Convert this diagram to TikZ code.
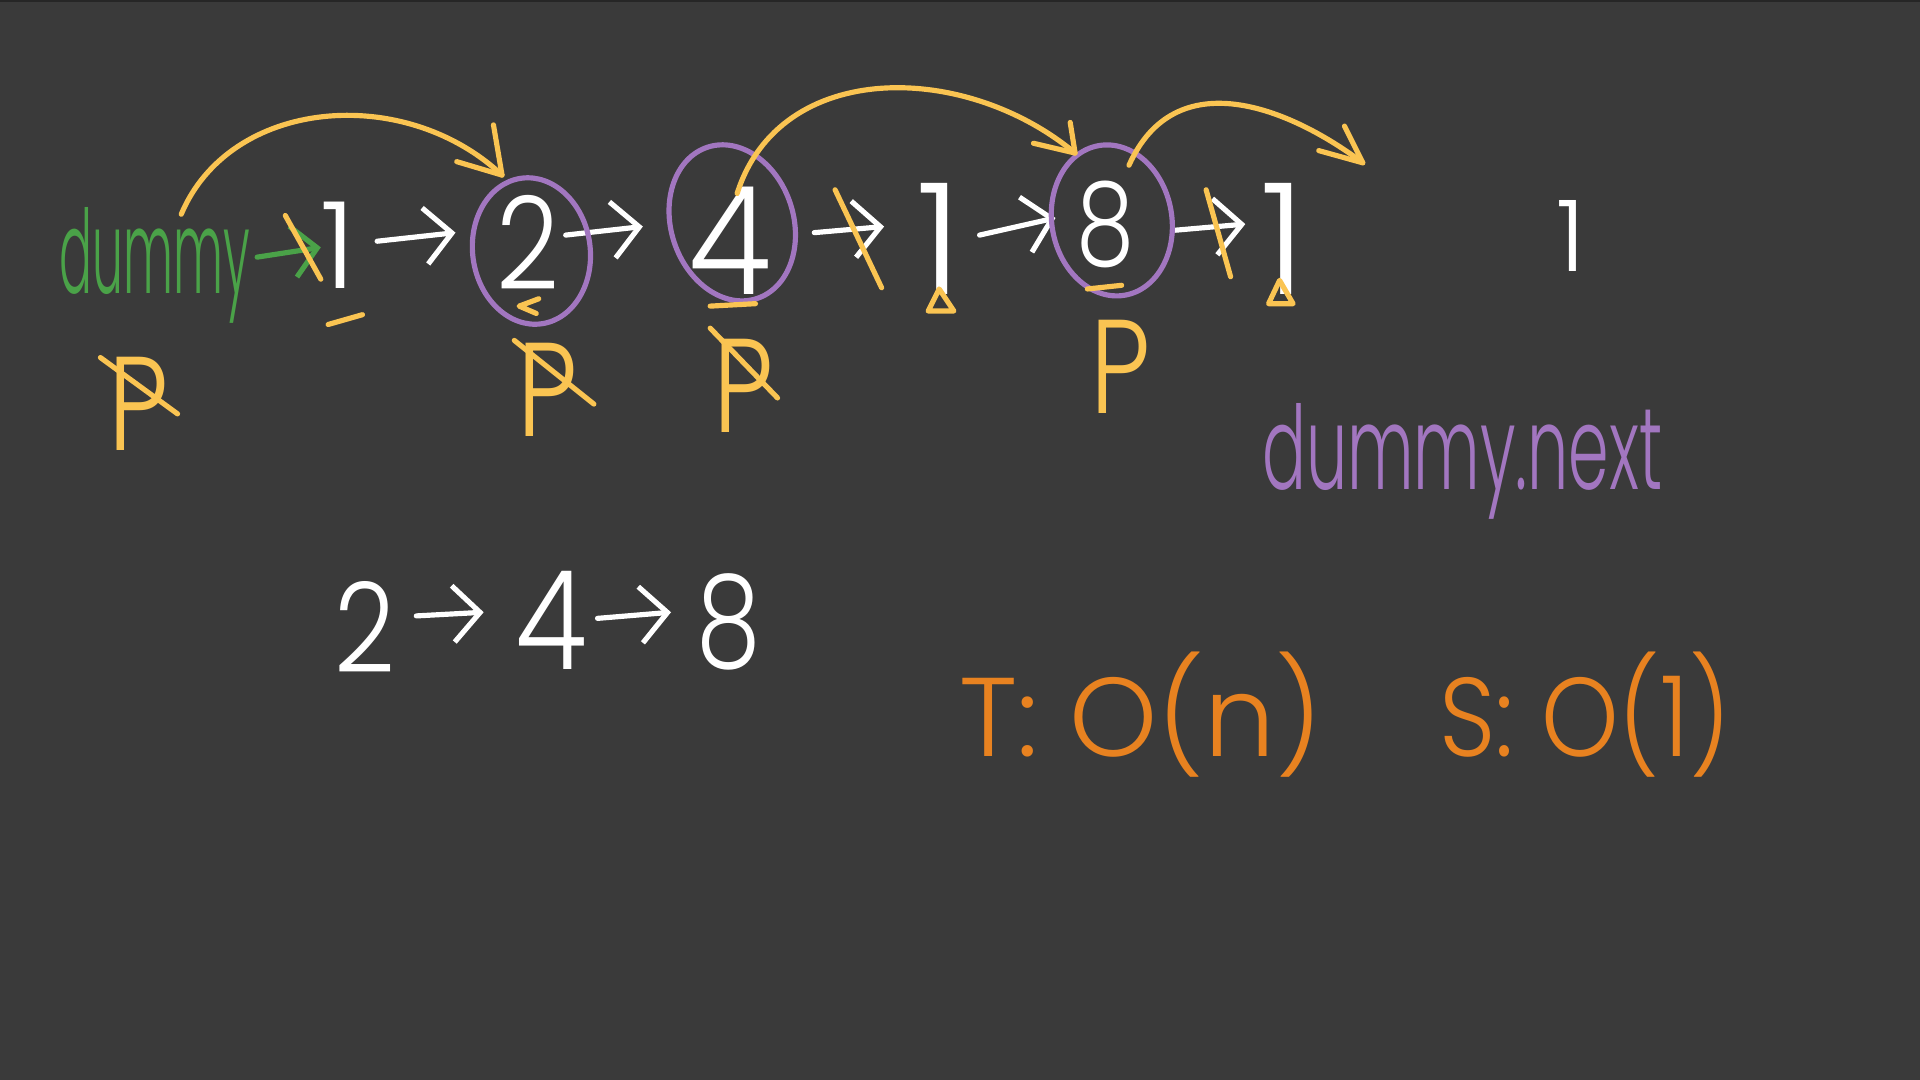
\documentclass[tikz,border=0pt]{standalone}
\usepackage{fontspec}
\setmainfont{Poppins Light}
\usepackage{graphicx}
\usetikzlibrary{arrows.meta,calc}
\definecolor{bg}{RGB}{58,58,58}
\definecolor{hwyellow}{RGB}{250,196,82}
\definecolor{hwgreen}{RGB}{74,162,72}
\definecolor{hwpurple}{RGB}{162,118,192}
\definecolor{hworange}{RGB}{232,130,32}
\newcommand{\hwsize}[1]{\fontsize{#1}{#1}\selectfont}
\begin{document}
\begin{tikzpicture}[x=0.01cm,y=-0.01cm,
  pen/.style={line width=1.2pt,line cap=round,line join=round},
  wpen/.style={pen,white},
  ypen/.style={pen,hwyellow},
  ppen/.style={pen,hwpurple},
  gpen/.style={pen,hwgreen},
  warr/.style={wpen,-{Straight Barb[length=2.2mm,width=4.6mm]}},
  garr/.style={gpen,-{Straight Barb[length=2mm,width=4.2mm]}},
  txt/.style={inner sep=0pt,anchor=center},
  digit/.style={txt,text=white},
  plabel/.style={txt,text=hwyellow,font=\hwsize{31}},
]
% background
\fill[bg] (0,0) rectangle (1568,882);
\fill[black!85] (0,0) rectangle (1568,1.5);

% top row
\node[txt,text=hwgreen,anchor=base west,font=\hwsize{27}] (dummy) at (48,240) {\scalebox{0.42}[1]{dummy}};
\node[digit,font=\hwsize{28}] (n1a) at (276,200) {1};
\node[digit,font=\hwsize{30}] (n2) at (431,198) {\scalebox{0.85}[1]{2}};
\node[digit,font=\hwsize{35}] (n4) at (596,197) {\scalebox{0.9}[1]{4}};
\node[digit,font=\hwsize{36}] (n1b) at (767,195) {1};
\node[digit,font=\hwsize{27}] (n8) at (903,183) {\scalebox{0.8}[1]{8}};
\node[digit,font=\hwsize{36}] (n1c) at (1048,195) {1};
\node[digit,font=\hwsize{23}] (n1d) at (1283,193) {1};

% list arrows
\draw[garr] ($(dummy.base west)+(162,-30)$) -- ($(n1a)+(-14,2)$);
\draw[warr] ($(n1a)+(32,-3)$) -- ($(n2)+(-59,-8)$);
\draw[warr] ($(n2)+(31,-6)$) -- ($(n4)+(-71,-12)$);
\draw[warr] ($(n4)+(69,-7)$) -- ($(n1b)+(-45,-10)$);
\draw[warr] ($(n1b)+(33,-3)$) -- ($(n8)+(-41,-5)$);
\draw[warr] ($(n8)+(57,5)$) -- ($(n1c)+(-31,-12)$);

% strikes over removed links
\draw[ypen] ($(n1a)+(-43,-24)$) -- ($(n1a)+(-14,28)$);
\draw[ypen] ($(n1b)+(-85,-40)$) -- ($(n1b)+(-47,40)$);
\draw[ypen] ($(n8)+(82,-28)$) -- ($(n1c)+(-43,31)$);

% purple circles
\draw[ppen] (n2) ++(3,7) ellipse [x radius=48,y radius=60,rotate=8];
\draw[ppen] (n4) ++(2,-15) ellipse [x radius=50,y radius=65,rotate=18];
\draw[ppen] (n8) ++(5,-3) ellipse [x radius=49,y radius=62,rotate=10];

% yellow jump arcs
\coordinate (s1) at ($(dummy.base west)+(100,-65)$);
\coordinate (t1) at ($(n2)+(-21,-55)$);
\draw[ypen] (s1) .. controls +(40,-95) and +(-80,-75) .. (t1);
\draw[ypen] ($(t1)+(-7,-41)$) -- (t1) -- ($(t1)+(-37,-11)$);
\coordinate (s2) at ($(n4)+(6,-39)$);
\coordinate (t2) at ($(n8)+(-25,-58)$);
\draw[ypen] (s2) .. controls +(35,-110) and +(-90,-75) .. (t2);
\draw[ypen] ($(t2)+(-4,-25)$) -- (t2) -- ($(t2)+(-34,-8)$);
\coordinate (s3) at ($(n8)+(19,-48)$);
\coordinate (t3) at ($(n1c)+(65,-62)$);
\draw[ypen] (s3) .. controls +(38,-85) and +(-60,-45) .. (t3);
\draw[ypen] ($(t3)+(-15,-30)$) -- (t3) -- ($(t3)+(-36,-10)$);

% small marks under nodes
\draw[ypen] ($(n1a)+(-8,65)$) -- ($(n1a)+(20,57)$);
\draw[ypen] ($(n2)+(9,46)$) -- ($(n2)+(-7,52)$) -- ($(n2)+(7,58)$);
\draw[ypen] ($(n4)+(-16,53)$) -- ($(n4)+(21,51)$);
\draw[ypen] ($(n8)+(-15,53)$) -- ($(n8)+(13,50)$);
\draw[ypen] ($(n1b)+(0,41)$) -- ($(n1b)+(-9,59)$) -- ($(n1b)+(12,59)$) -- cycle;
\draw[ypen] ($(n1c)+(-3,34)$) -- ($(n1c)+(-12,53)$) -- ($(n1c)+(8,53)$) -- cycle;

% pointer labels
\node[plabel] (p1) at (113,330) {\scalebox{0.8}[1]{P}};
\node[plabel] (p2) at (447,318) {\scalebox{0.8}[1]{P}};
\node[plabel] (p3) at (607,315) {\scalebox{0.8}[1]{P}};
\node[plabel] (p4) at (915,300) {\scalebox{0.8}[1]{P}};
\draw[ypen] ($(p1)+(-31,-38)$) -- ($(p1)+(32,8)$);
\draw[ypen] ($(p2)+(-27,-40)$) -- ($(p2)+(38,12)$);
\draw[ypen] ($(p3)+(-27,-47)$) -- ($(p3)+(28,10)$);

% purple label
\node[txt,text=hwpurple,anchor=base west,font=\hwsize{27}] (dnext) at (1030,400) {\scalebox{0.56}[1]{dummy.next}};

% result list
\node[digit,font=\hwsize{29}] (b2) at (298,512) {\scalebox{0.85}[1]{2}};
\node[digit,font=\hwsize{32}] (b4) at (450,507) {\scalebox{0.85}[1]{4}};
\node[digit,font=\hwsize{30}] (b8) at (595,508) {\scalebox{0.8}[1]{8}};
\draw[warr] ($(b2)+(42,-9)$) -- ($(b4)+(-55,-7)$);
\draw[warr] ($(b4)+(38,-2)$) -- ($(b8)+(-47,-8)$);

% complexity
\node[txt,text=hworange,anchor=base west,font=\hwsize{26}] (tc) at (783,618) {T: O(n)};
\node[txt,text=hworange,anchor=base west,font=\hwsize{26}] (sc) at (1175,618) {\scalebox{0.88}[1]{S: O(1)}};
\end{tikzpicture}
\end{document}
